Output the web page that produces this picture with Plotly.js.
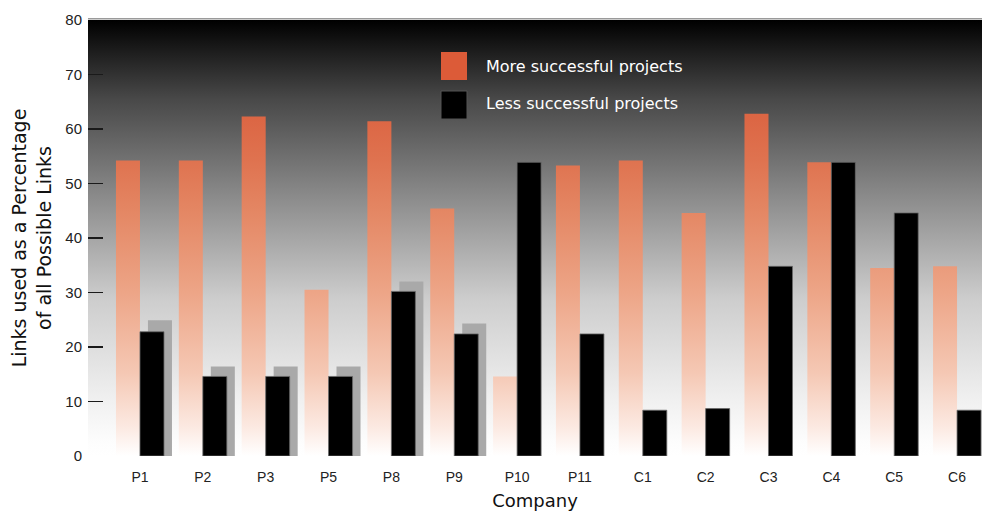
<!DOCTYPE html>
<html>
<head>
<meta charset="utf-8">
<script src="https://cdn.plot.ly/plotly-3.0.1.min.js"></script>
<style>
  html, body { margin: 0; padding: 0; background: #ffffff; }
  #chart { width: 982px; height: 512px; }
</style>
</head>
<body>
<div id="chart"></div>
<script>
// ---- data ----
const categories = ['P1', 'P2', 'P3', 'P5', 'P8', 'P9', 'P10', 'P11', 'C1', 'C2', 'C3', 'C4', 'C5', 'C6'];
const moreSuccessful = [54.2, 54.2, 62.3, 30.5, 61.4, 45.4, 14.6, 53.3, 54.2, 44.6, 62.8, 53.9, 34.5, 34.8];
const lessSuccessful = [22.8, 14.6, 14.6, 14.6, 30.2, 22.4, 53.9, 22.4, 8.4, 8.7, 34.8, 53.9, 44.6, 8.4];
const lessShadow = [24.9, 16.4, 16.4, 16.4, 32.0, 24.3, null, null, null, null, null, null, null, null];
const seriesNames = ['More successful projects', 'Less successful projects'];
const yTicks = [0, 10, 20, 30, 40, 50, 60, 70, 80];

// ---- layout helpers (pixel -> paper) ----
const W = 982, H = 512, ML = 88, MR = 0, MT = 20, MB = 56;
const PW = W - ML - MR, PH = H - MT - MB;
const px = x => (x - ML) / PW;
const py = y => 1 - (y - MT) / PH;

const BW = 0.382;

const data = [
  {
    type: 'bar', name: seriesNames[0], x: categories, y: moreSuccessful,
    offset: -BW, width: BW,
    marker: { color: '#e07a55', line: { width: 0 } },
    showlegend: false
  },
  {
    type: 'bar', name: 'shadow', x: categories, y: lessShadow,
    offset: 0.127, width: BW,
    marker: { color: '#a9a9a9', line: { width: 0 } },
    showlegend: false
  },
  {
    type: 'bar', name: seriesNames[1], x: categories, y: lessSuccessful,
    offset: 0, width: BW,
    marker: { color: '#000000', line: { width: 0.8, color: '#6a6a6a' } },
    showlegend: false
  }
];

const fontMain = 'DejaVu Sans, Verdana, sans-serif';
const fontTick = 'Liberation Sans Narrow, Arial Narrow, Liberation Sans, Arial, sans-serif';

const layout = {
  width: W, height: H,
  margin: { l: ML, r: MR, t: MT, b: MB, pad: 0 },
  paper_bgcolor: '#ffffff',
  plot_bgcolor: '#8a8a8a',
  barmode: 'overlay',
  showlegend: false,
  xaxis: {
    type: 'category',
    range: [-0.827, 13.397],
    showgrid: false, zeroline: false, showline: false,
    ticks: 'outside', ticklen: 8, tickcolor: 'rgba(0,0,0,0)',
    tickfont: { family: fontTick, size: 14, color: '#222222' },
    title: { text: 'Company', font: { family: fontMain, size: 18, color: '#111111' }, standoff: 10 }
  },
  yaxis: {
    range: [0, 80],
    tickvals: yTicks,
    showgrid: false, zeroline: false, showline: false,
    ticks: 'inside', ticklen: 15, tickwidth: 1.5, tickcolor: '#1a1a1a',
    ticklabelstandoff: 5,
    tickfont: { family: fontTick, size: 15, color: '#222222' },
    title: { text: 'Links used as a Percentage<br>of all Possible Links',
             font: { family: fontMain, size: 19, color: '#111111' }, standoff: 8 }
  },
  shapes: [
    { type: 'line', xref: 'paper', yref: 'paper', x0: 0, x1: 1, y0: 1.003, y1: 1.003,
      line: { color: '#9a9a9a', width: 1.5 } },
    { type: 'rect', xref: 'paper', yref: 'paper', x0: px(441), x1: px(467), y0: py(80), y1: py(52),
      fillcolor: '#dc5b38', line: { width: 0 } },
    { type: 'rect', xref: 'paper', yref: 'paper', x0: px(441), x1: px(467), y0: py(119), y1: py(91),
      fillcolor: '#000000', line: { width: 1, color: '#555555' } }
  ],
  annotations: [
    { xref: 'paper', yref: 'paper', x: px(484), y: py(67), xanchor: 'left', yanchor: 'middle',
      text: seriesNames[0], showarrow: false, font: { family: fontMain, size: 16, color: '#ffffff' } },
    { xref: 'paper', yref: 'paper', x: px(484), y: py(104), xanchor: 'left', yanchor: 'middle',
      text: seriesNames[1], showarrow: false, font: { family: fontMain, size: 16, color: '#ffffff' } }
  ]
};

const gd = document.getElementById('chart');

function addGradient(defs, id, attrs, stops) {
  const NS = 'http://www.w3.org/2000/svg';
  const g = document.createElementNS(NS, 'linearGradient');
  g.setAttribute('id', id);
  Object.keys(attrs).forEach(k => g.setAttribute(k, attrs[k]));
  stops.forEach(s => {
    const st = document.createElementNS(NS, 'stop');
    st.setAttribute('offset', s[0]);
    st.setAttribute('stop-color', s[1]);
    g.appendChild(st);
  });
  defs.appendChild(g);
}

function applyGradients() {
  const NS = 'http://www.w3.org/2000/svg';
  const svg = gd.querySelector('svg.main-svg');
  let defs = svg.querySelector('defs');
  if (!defs) { defs = document.createElementNS(NS, 'defs'); svg.insertBefore(defs, svg.firstChild); }
  const h = (gd._fullLayout && gd._fullLayout._size) ? gd._fullLayout._size.h : PH;

  addGradient(defs, 'bgGrad', { x1: 0, y1: 0, x2: 0, y2: 1 }, [
    [0, '#000000'], [0.18, '#484848'], [0.41, '#8c8c8c'], [0.64, '#cdcdcd'],
    [0.87, '#f0f0f0'], [0.97, '#fdfdfd'], [1, '#ffffff']
  ]);
  addGradient(defs, 'orangeGrad', { gradientUnits: 'userSpaceOnUse', x1: 0, y1: 0, x2: 0, y2: h }, [
    [0, '#d85a37'], [0.225, '#dc6644'], [0.325, '#df7350'], [0.44, '#e48764'],
    [0.625, '#eda587'], [0.81, '#f5c8b4'], [0.94, '#fcebe4'], [1, '#ffffff']
  ]);

  const bg = gd.querySelector('rect.bg');
  if (bg) bg.style.fill = 'url(#bgGrad)';
  const traces = gd.querySelectorAll('.barlayer .trace');
  if (traces.length) {
    traces[0].querySelectorAll('path').forEach(p => { p.style.fill = 'url(#orangeGrad)'; });
  }
}

Plotly.newPlot(gd, data, layout, { staticPlot: true, displayModeBar: false }).then(applyGradients);
</script>
</body>
</html>
